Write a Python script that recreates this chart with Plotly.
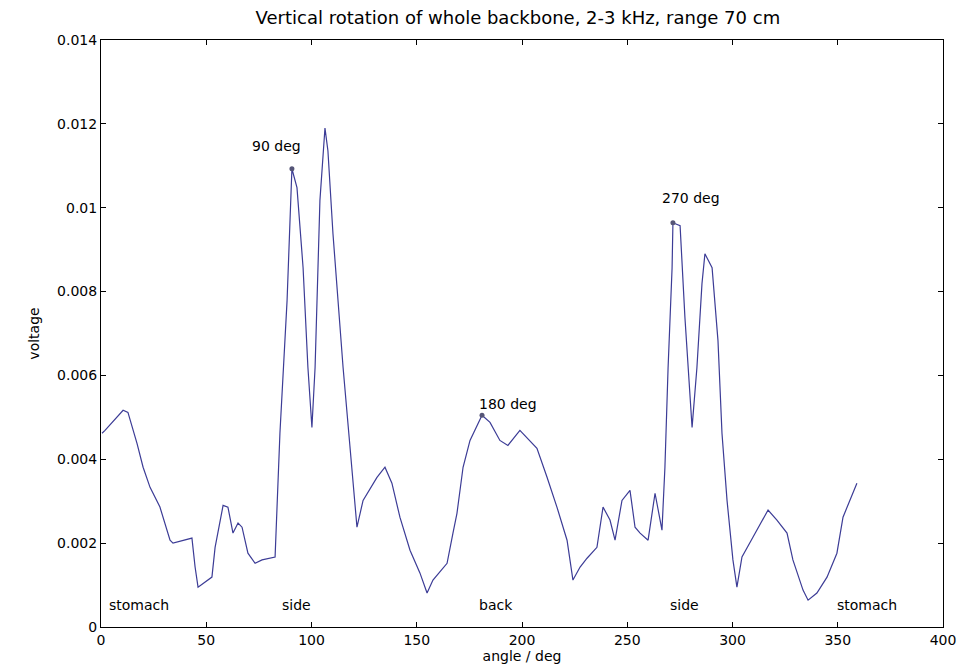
import plotly.graph_objects as go

# angle (deg) and measured voltage
angle_deg = [0.5, 1.9, 10.5, 12.8, 17.1, 20.0, 23.3, 28.0, 32.8, 34.2, 43.2, 44.7, 46.1, 49.4, 52.7,
             54.2, 56.5, 58.0, 60.3, 62.7, 65.1, 67.0, 69.8, 73.2, 76.5, 82.7, 85.0, 88.4, 90.7, 93.1,
             96.0, 98.3, 100.2, 101.7, 104.0, 106.4, 107.8, 110.2, 115.0, 119.2, 121.6, 124.5, 131.1,
             134.9, 138.2, 142.0, 146.8, 151.5, 154.9, 157.7, 164.4, 167.2, 169.1, 172.0, 175.3, 181.0,
             184.8, 189.5, 193.3, 199.0, 202.4, 207.1, 211.9, 216.6, 221.4, 224.2, 227.6, 230.9, 235.6,
             238.5, 241.8, 244.2, 247.5, 251.3, 253.7, 256.1, 259.9, 263.2, 266.5, 267.9, 269.4, 271.3,
             271.7, 275.1, 277.4, 280.8, 283.1, 285.5, 286.9, 290.3, 293.1, 295.0, 297.4, 300.2, 302.1,
             304.5, 309.7, 316.9, 321.1, 325.9, 328.7, 333.5, 335.9, 340.1, 344.9, 349.6, 352.5, 359.1]
voltage = [0.00462, 0.00469, 0.00517, 0.00512, 0.00438, 0.00381, 0.00333, 0.00286, 0.00207, 0.00200,
           0.00212, 0.00143, 0.00095, 0.00107, 0.00119, 0.00190, 0.00255, 0.00290, 0.00286, 0.00224,
           0.00248, 0.00238, 0.00176, 0.00152, 0.00160, 0.00167, 0.00462, 0.00779, 0.01093, 0.01048,
           0.00857, 0.00619, 0.00476, 0.00619, 0.01017, 0.01190, 0.01136, 0.00938, 0.00619, 0.00381,
           0.00238, 0.00302, 0.00357, 0.00381, 0.00343, 0.00262, 0.00183, 0.00129, 0.00081, 0.00112,
           0.00152, 0.00224, 0.00271, 0.00381, 0.00445, 0.00505, 0.00488, 0.00445, 0.00433, 0.00469,
           0.00452, 0.00426, 0.00357, 0.00286, 0.00207, 0.00112, 0.00143, 0.00164, 0.00190, 0.00286,
           0.00255, 0.00207, 0.00302, 0.00326, 0.00238, 0.00224, 0.00207, 0.00319, 0.00231, 0.00381,
           0.00619, 0.00857, 0.00964, 0.00957, 0.00738, 0.00476, 0.00619, 0.00819, 0.00890, 0.00857,
           0.00683, 0.00462, 0.00302, 0.00160, 0.00095, 0.00167, 0.00214, 0.00279, 0.00255, 0.00224,
           0.00160, 0.00088, 0.00064, 0.00081, 0.00119, 0.00176, 0.00262, 0.00343]

# peak labels
peak_labels = ["90 deg", "180 deg", "270 deg"]
peak_x = [70.8, 178.6, 265.6]
peak_y = [0.01148, 0.00533, 0.01024]
peak_mark_x = [90.7, 181.0, 271.7]
peak_mark_y = [0.01093, 0.00505, 0.00964]

# orientation labels
pos_labels = ["stomach", "side", "back", "side", "stomach"]
pos_x = [2.9, 85.0, 178.6, 269.4, 348.7]
pos_y = [0.00052, 0.00052, 0.00052, 0.00052, 0.00052]

x_ticks = [0, 50, 100, 150, 200, 250, 300, 350, 400]
y_ticks = [0, 0.002, 0.004, 0.006, 0.008, 0.010, 0.012, 0.014]
y_tick_text = ["0", "0.002", "0.004", "0.006", "0.008", "0.01", "0.012", "0.014"]

FONT = "DejaVu Sans"

fig = go.Figure()
fig.add_trace(go.Scatter(x=angle_deg, y=voltage, mode="lines",
                         line=dict(color="#3c3c96", width=1.2), showlegend=False))
fig.add_trace(go.Scatter(x=peak_mark_x, y=peak_mark_y, mode="markers",
                         marker=dict(color="#555577", size=5), showlegend=False))

for t, x, y in zip(peak_labels, peak_x, peak_y):
    fig.add_annotation(x=x, y=y, text=t, showarrow=False, xanchor="left", yanchor="middle",
                       font=dict(family=FONT, size=14, color="black"))
for t, x, y in zip(pos_labels, pos_x, pos_y):
    fig.add_annotation(x=x, y=y, text=t, showarrow=False, xanchor="left", yanchor="middle",
                       font=dict(family=FONT, size=14, color="black"))

axis_common = dict(showgrid=False, zeroline=False, showline=True, linecolor="black", linewidth=1,
                   mirror="ticks", ticks="inside", ticklen=5, tickcolor="black", automargin=False,
                   tickfont=dict(family=FONT, size=14, color="black"))

fig.update_layout(
    width=959, height=671,
    margin=dict(l=101, r=16, t=40, b=44),
    paper_bgcolor="white", plot_bgcolor="white",
    title=dict(text="Vertical rotation of whole backbone, 2-3 kHz, range 70 cm",
               x=0.54, xanchor="center", y=0.973, yanchor="middle",
               font=dict(family=FONT, size=18, color="black")),
    xaxis=dict(range=[0, 400], tickvals=x_ticks, **axis_common,
               title=dict(text="angle / deg", font=dict(family=FONT, size=14, color="black"), standoff=2)),
    yaxis=dict(range=[0, 0.014], tickvals=y_ticks, ticktext=y_tick_text, **axis_common,
               title=dict(text="voltage", font=dict(family=FONT, size=14, color="black"), standoff=14)),
)

fig.write_html("out.html", config={"displayModeBar": False},
               post_script="document.body.style.margin='0';document.body.style.overflow='hidden';")
